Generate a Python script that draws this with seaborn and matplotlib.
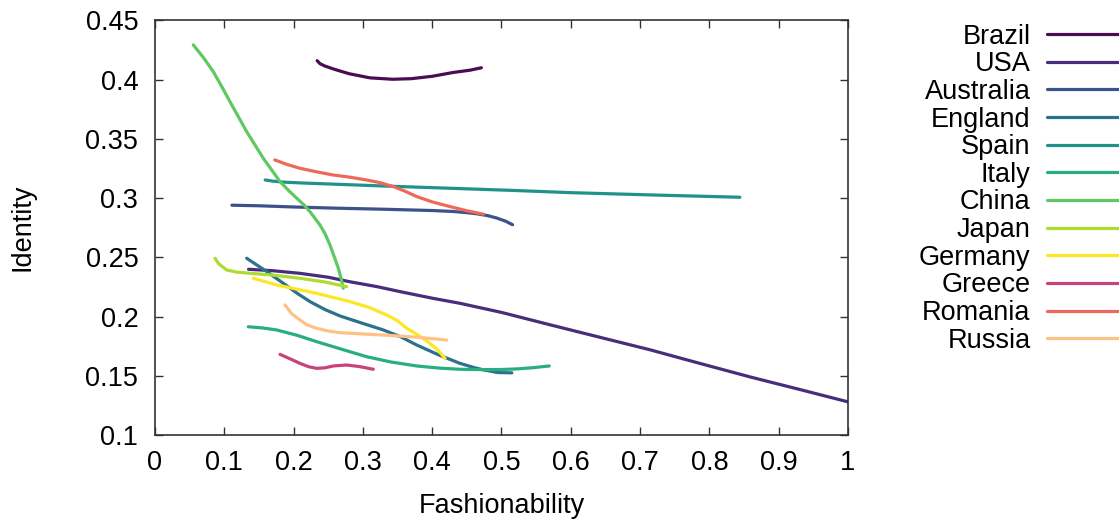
import matplotlib
matplotlib.use("Agg")
import matplotlib.pyplot as plt
import seaborn as sns
import pandas as pd

# Country trajectories in (Fashionability, Identity) space
countries = ["Brazil", "USA", "Australia", "England", "Spain", "Italy",
             "China", "Japan", "Germany", "Greece", "Romania", "Russia"]

brazil_x = [0.234, 0.238, 0.245, 0.26, 0.28, 0.31, 0.343, 0.37, 0.40, 0.43, 0.455, 0.471]
brazil_y = [0.416, 0.4135, 0.4115, 0.4085, 0.405, 0.4015, 0.4003, 0.4008, 0.4028, 0.406, 0.408, 0.410]

usa_x = [0.135, 0.17, 0.209, 0.25, 0.281, 0.32, 0.354, 0.40, 0.44, 0.5, 0.567, 0.642, 0.714, 0.786, 0.859, 0.93, 1.0]
usa_y = [0.2399, 0.2387, 0.2365, 0.2332, 0.2294, 0.2253, 0.221, 0.2155, 0.2112, 0.2035, 0.1935, 0.1825, 0.172, 0.1605, 0.149, 0.1385, 0.128]

australia_x = [0.111, 0.15, 0.2, 0.26, 0.33, 0.40, 0.43, 0.45, 0.465, 0.48, 0.493, 0.506, 0.516]
australia_y = [0.294, 0.2935, 0.2925, 0.2915, 0.2906, 0.2895, 0.2887, 0.2877, 0.2867, 0.2852, 0.2832, 0.2805, 0.2775]

england_x = [0.1323, 0.16, 0.1851, 0.205, 0.2237, 0.245, 0.267, 0.30, 0.3294, 0.355, 0.3776, 0.41, 0.4401, 0.46, 0.474, 0.495, 0.515]
england_y = [0.2492, 0.2385, 0.2281, 0.2197, 0.2126, 0.206, 0.2005, 0.1942, 0.1887, 0.1828, 0.176, 0.1675, 0.1605, 0.157, 0.155, 0.1527, 0.1525]

spain_x = [0.159, 0.17, 0.185, 0.21, 0.233, 0.33, 0.426, 0.52, 0.599, 0.72, 0.844]
spain_y = [0.3153, 0.3143, 0.3135, 0.3128, 0.3123, 0.3102, 0.3083, 0.3064, 0.3046, 0.3026, 0.3007]

italy_x = [0.1347, 0.155, 0.1756, 0.205, 0.2333, 0.27, 0.3055, 0.34, 0.3776, 0.41, 0.4401, 0.474, 0.50, 0.522, 0.545, 0.569]
italy_y = [0.1914, 0.1904, 0.1887, 0.1842, 0.1788, 0.1723, 0.1661, 0.1617, 0.1583, 0.1565, 0.1555, 0.1552, 0.1553, 0.1558, 0.1568, 0.1583]

china_x = [0.0553, 0.07, 0.0841, 0.096, 0.1082, 0.1323, 0.1563, 0.1804, 0.193, 0.2045, 0.2145, 0.2237, 0.2381, 0.2455, 0.2525, 0.2585, 0.2645, 0.2685, 0.2717]
china_y = [0.4293, 0.4185, 0.4068, 0.3945, 0.3814, 0.3561, 0.3336, 0.3139, 0.3063, 0.2999, 0.2945, 0.2885, 0.2773, 0.2698, 0.2604, 0.2508, 0.2408, 0.2325, 0.2239]

japan_x = [0.0866, 0.092, 0.1034, 0.118, 0.1371, 0.17, 0.2092, 0.245, 0.2766]
japan_y = [0.2492, 0.2445, 0.2393, 0.2375, 0.2365, 0.235, 0.2323, 0.2292, 0.2252]

germany_x = [0.1419, 0.1756, 0.2333, 0.2814, 0.31, 0.3343, 0.35, 0.3632, 0.38, 0.3968, 0.408, 0.4185]
germany_y = [0.2323, 0.2267, 0.2196, 0.2126, 0.2075, 0.2013, 0.1965, 0.1901, 0.1842, 0.1774, 0.1718, 0.1648]

greece_x = [0.1804, 0.195, 0.2092, 0.222, 0.2333, 0.245, 0.2573, 0.2766, 0.295, 0.315]
greece_y = [0.1681, 0.1643, 0.1605, 0.1576, 0.1563, 0.1567, 0.1583, 0.1591, 0.1578, 0.1555]

romania_x = [0.173, 0.19, 0.209, 0.233, 0.257, 0.283, 0.305, 0.325, 0.344, 0.36, 0.378, 0.40, 0.426, 0.45, 0.474]
romania_y = [0.3322, 0.3285, 0.3252, 0.3222, 0.3195, 0.3175, 0.3153, 0.313, 0.3097, 0.306, 0.3012, 0.2968, 0.2928, 0.2893, 0.2864]

russia_x = [0.1876, 0.197, 0.2092, 0.22, 0.2333, 0.25, 0.267, 0.30, 0.3294, 0.38, 0.4209]
russia_y = [0.2098, 0.2025, 0.1971, 0.1928, 0.1901, 0.1878, 0.1864, 0.1853, 0.1844, 0.1825, 0.1802]

series_x = [brazil_x, usa_x, australia_x, england_x, spain_x, italy_x,
            china_x, japan_x, germany_x, greece_x, romania_x, russia_x]
series_y = [brazil_y, usa_y, australia_y, england_y, spain_y, italy_y,
            china_y, japan_y, germany_y, greece_y, romania_y, russia_y]

colors = ["#4b0c52", "#472d7b", "#3b528b", "#2c728e", "#21918c", "#28ae80",
          "#5ec962", "#addc30", "#fde725", "#c8437b", "#ed6a5a", "#fec287"]

x_ticks = [0, 0.1, 0.2, 0.3, 0.4, 0.5, 0.6, 0.7, 0.8, 0.9, 1]
x_tick_labels = ["0", "0.1", "0.2", "0.3", "0.4", "0.5", "0.6", "0.7", "0.8", "0.9", "1"]
y_ticks = [0.1, 0.15, 0.2, 0.25, 0.3, 0.35, 0.4, 0.45]
y_tick_labels = ["0.1", "0.15", "0.2", "0.25", "0.3", "0.35", "0.4", "0.45"]

frames = []
for name, xs, ys in zip(countries, series_x, series_y):
    frames.append(pd.DataFrame({"Fashionability": xs, "Identity": ys,
                                "Country": name, "order": range(len(xs))}))
df = pd.concat(frames, ignore_index=True)

sns.set_theme(style="white")
plt.rcParams["font.family"] = ["Liberation Sans", "DejaVu Sans"]
plt.rcParams["text.color"] = "black"
plt.rcParams["axes.labelcolor"] = "black"
plt.rcParams["legend.labelcolor"] = "black"

fig = plt.figure(figsize=(11.19, 5.24), dpi=100)
ax = fig.add_axes([0.1385, 0.1698, 0.6193, 0.7913])

sns.lineplot(data=df, x="Fashionability", y="Identity", hue="Country",
             hue_order=countries, palette=colors, sort=False, units="Country",
             estimator=None, linewidth=2.3, ax=ax, legend=True)

ax.set_xlim(0, 1)
ax.set_ylim(0.1, 0.45)
ax.set_xticks(x_ticks)
ax.set_xticklabels(x_tick_labels)
ax.set_yticks(y_ticks)
ax.set_yticklabels(y_tick_labels)

fs = 19.5
ax.tick_params(direction="in", length=6, width=1, colors="#333333",
               labelcolor="black", labelsize=fs, top=True, right=True,
               bottom=True, left=True)
ax.tick_params(axis="y", pad=12)
ax.tick_params(axis="x", pad=11)
for side in ax.spines.values():
    side.set_color("#333333")
    side.set_linewidth(1.2)

ax.set_xlabel("Fashionability", fontsize=fs, labelpad=12, color="black")
ax.set_ylabel("Identity", fontsize=fs, labelpad=36, color="black")

handles, labels = ax.get_legend_handles_labels()
ax.legend(handles, labels, loc="upper right", bbox_to_anchor=(0.999, 0.955),
          bbox_transform=fig.transFigure, frameon=False, markerfirst=False,
          fontsize=fs, handlelength=2.6, handletextpad=0.62, labelspacing=0.061,
          borderpad=0, borderaxespad=0, labelcolor="black")

fig.savefig("out.png", dpi=100)
